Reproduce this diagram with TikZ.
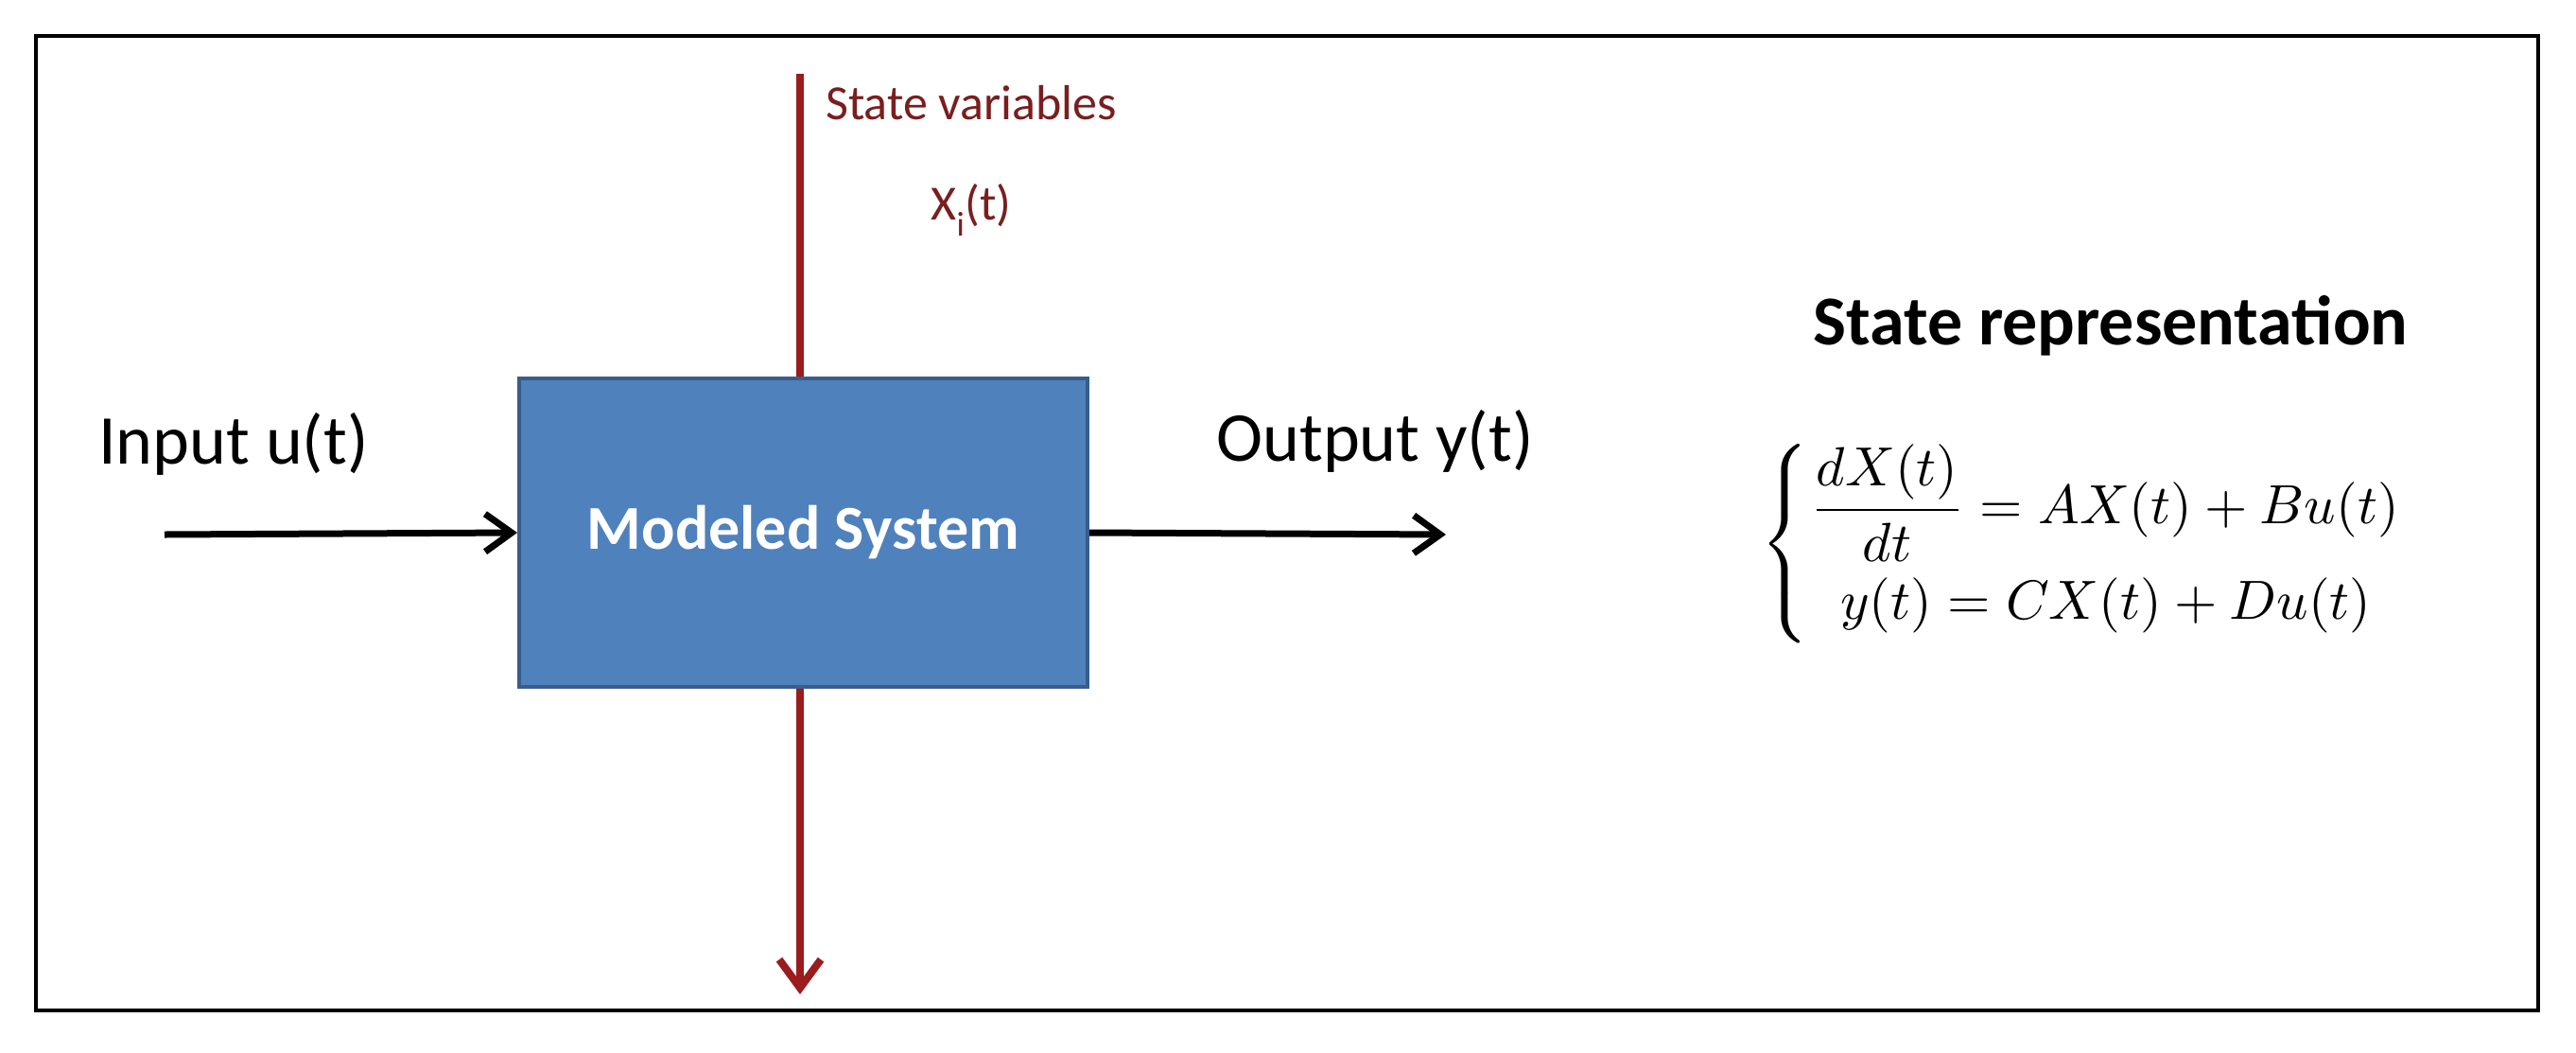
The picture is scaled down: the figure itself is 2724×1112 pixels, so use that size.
\documentclass[tikz,border=0pt]{standalone}
\usepackage{amsmath}
\usepackage{graphicx}
\usepackage{fontspec}
\setmainfont{Carlito}
\usetikzlibrary{arrows.meta}
\definecolor{boxfill}{HTML}{4F81BD}
\definecolor{boxline}{HTML}{385D8A}
\definecolor{dred}{HTML}{9A1C1C}
\definecolor{tred}{HTML}{7A1E1E}
\begin{document}
\begin{tikzpicture}[x=1pt,y=-1pt,
  arr/.style={line width=7pt,-{Straight Barb[length=28pt,width=40pt,line width=7pt]}},
  lbl/.style={font=\fontsize{74}{80}\selectfont}]
\useasboundingbox (0,0) rectangle (2724,1112);
\fill[white] (0,0) rectangle (2724,1112);
\draw[line width=4pt] (38,38) rectangle (2684,1068);
\coordinate (top) at (846,78);
\coordinate (bot) at (846,1051);
\coordinate (in) at (174,565);
\coordinate (out) at (1529,565);
\draw[dred,line width=8pt,-{Straight Barb[length=30pt,width=44pt,line width=8pt]}] (top) -- (bot);
\node[draw=boxline,line width=4pt,fill=boxfill,minimum width=601pt,minimum height=326pt,
  text=white,font=\fontsize{66}{72}\selectfont\bfseries] (sys) at (849.5,563) {Modeled System};
\draw[arr] (in) -- (sys.west);
\draw[arr] (sys.east) -- (out);
\node[lbl] (inl) at (247,469) {Input u(t)};
\node[lbl] (outl) at (1454,466) {Output y(t)};
\node[text=tred,align=center,font=\fontsize{52}{106}\selectfont] (sv) at (1027,170) {State variables\\X\textsubscript{i}(t)};
\node[font=\fontsize{74}{80}\selectfont\bfseries] (sr) at (2232,344) {State representation};
\node (eq) at (2232,575)
 {\resizebox{740pt}{!}{$\begin{cases}\dfrac{dX(t)}{dt}=AX(t)+Bu(t)\\[3pt] \;\;y(t)=CX(t)+Du(t)\end{cases}$}};
\end{tikzpicture}
\end{document}
